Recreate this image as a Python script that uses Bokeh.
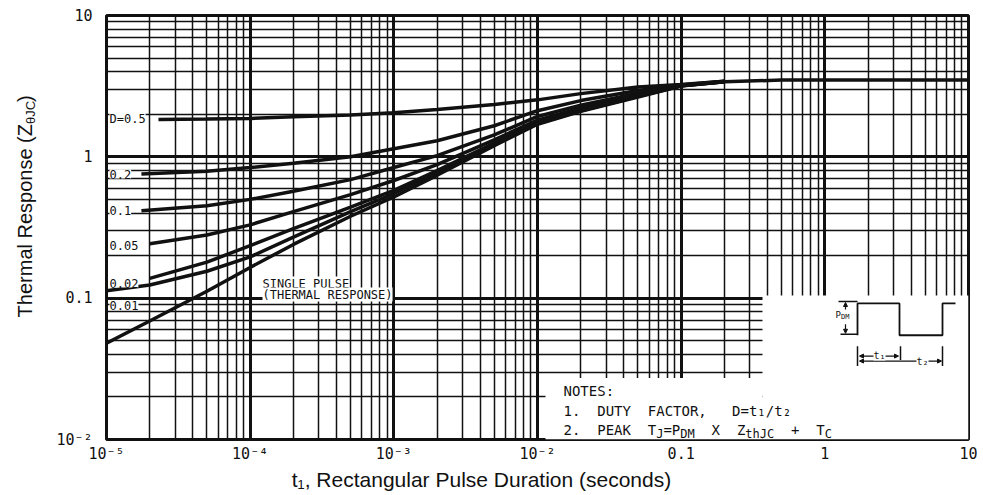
import math
from bokeh.plotting import figure
from bokeh.layouts import row, column
from bokeh.models import FixedTicker, CustomJSTickFormatter, Label, Arrow, NormalHead
from bokeh.core.properties import value
from bokeh.embed import file_html
from bokeh.resources import INLINE

# ---------------- data ----------------
single_t = [1e-5, 2e-5, 5e-5, 1e-4, 2e-4, 5e-4, 1e-3, 2e-3, 5e-3, 1e-2, 2e-2, 5e-2, 0.1, 0.2, 0.5, 1, 2, 5, 10]
single_z = [0.048, 0.069, 0.112, 0.165, 0.24, 0.38, 0.52, 0.74, 1.2, 1.7, 2.1, 2.65, 3.17, 3.4, 3.49, 3.5, 3.5, 3.5, 3.5]

d001_t = [1e-5, 2e-5, 5e-5, 1e-4, 2e-4, 5e-4, 1e-3, 2e-3, 5e-3, 1e-2, 2e-2, 5e-2, 0.1, 0.2]
d001_z = [0.113, 0.124, 0.155, 0.196, 0.27, 0.41, 0.55, 0.77, 1.23, 1.72, 2.12, 2.67, 3.18, 3.4]

d002_t = [2e-5, 5e-5, 1e-4, 2e-4, 5e-4, 1e-3, 2e-3, 5e-3, 1e-2, 2e-2, 5e-2, 0.1, 0.2]
d002_z = [0.138, 0.18, 0.235, 0.31, 0.44, 0.58, 0.8, 1.25, 1.75, 2.15, 2.69, 3.18, 3.4]

d005_t = [2e-5, 5e-5, 1e-4, 2e-4, 5e-4, 1e-3, 2e-3, 5e-3, 1e-2, 2e-2, 5e-2, 0.1, 0.2]
d005_z = [0.243, 0.28, 0.33, 0.41, 0.54, 0.68, 0.88, 1.32, 1.82, 2.22, 2.74, 3.19, 3.41]

d01_t = [1.75e-5, 5e-5, 1e-4, 2e-4, 5e-4, 1e-3, 2e-3, 5e-3, 1e-2, 2e-2, 5e-2, 0.1, 0.2]
d01_z = [0.415, 0.45, 0.5, 0.57, 0.69, 0.84, 1.02, 1.43, 1.93, 2.32, 2.82, 3.2, 3.41]

d02_t = [1.75e-5, 5e-5, 1e-4, 2e-4, 5e-4, 1e-3, 2e-3, 5e-3, 1e-2, 2e-2, 5e-2, 0.1, 0.2]
d02_z = [0.755, 0.79, 0.84, 0.9, 1.0, 1.14, 1.3, 1.66, 2.12, 2.5, 2.95, 3.22, 3.42]

d05_t = [2.3e-5, 5e-5, 1e-4, 2e-4, 5e-4, 1e-3, 2e-3, 5e-3, 1e-2, 2e-2, 5e-2, 0.1, 0.2]
d05_z = [1.84, 1.85, 1.87, 1.92, 1.98, 2.05, 2.16, 2.35, 2.53, 2.8, 3.12, 3.25, 3.43]

curve_labels = ["D=0.5", "0.2", "0.1", "0.05", "0.02", "0.01"]
curve_label_z = [1.84, 0.755, 0.415, 0.237, 0.128, 0.089]

x_tick_exps = [-5, -4, -3, -2, -1, 0, 1]
x_tick_labels = ["10⁻⁵", "10⁻⁴", "10⁻³", "10⁻²", "0.1", "1", "10"]
y_tick_exps = [-2, -1, 0, 1]
y_tick_labels = ["10⁻²", "0.1", "1", "10"]

x_title = "t₁, Rectangular Pulse Duration (seconds)"
y_title_parts = ["Thermal Response (Z", "θJC", ")"]

# ---------------- layout helpers ----------------
FX0, FX1, FY0, FY1 = 106, 968, 15, 442   # frame edges in page pixels
LEFT_W, MAIN_W, MAIN_H, BOT_H = 46, 935, 465, 28


def px2x(px):
    return 10 ** (-5 + (px - FX0) / (FX1 - FX0) * 6)


def px2y(py):
    return 10 ** (1 - (py - FY0) / (FY1 - FY0) * 3)


MONO = "DejaVu Sans Mono"
SANS = "Liberation Sans"
INK = "#111111"
NB = "\u00a0"

p = figure(width=MAIN_W, height=MAIN_H, x_axis_type="log", y_axis_type="log",
           x_range=(1e-5, 10), y_range=(1e-2, 10), output_backend="svg",
           toolbar_location=None, min_border_left=FX0 - LEFT_W, min_border_right=LEFT_W + MAIN_W - FX1,
           min_border_top=FY0, min_border_bottom=MAIN_H - FY1)
p.background_fill_color = "white"
p.border_fill_color = "white"
p.outline_line_color = INK
p.outline_line_width = 3

xmaj = [10.0 ** e for e in x_tick_exps]
ymaj = [10.0 ** e for e in y_tick_exps]
xmin = [m * d for d in xmaj[:-1] for m in range(2, 10)]
ymin = [m * d for d in ymaj[:-1] for m in range(2, 10)]
p.xaxis.ticker = FixedTicker(ticks=xmaj, minor_ticks=xmin)
p.yaxis.ticker = FixedTicker(ticks=ymaj, minor_ticks=ymin)

fmt_code = """
const e = Math.round(Math.log10(tick));
const i = exps.indexOf(e);
return i >= 0 ? labels[i] : "";
"""
p.xaxis.formatter = CustomJSTickFormatter(args=dict(exps=x_tick_exps, labels=x_tick_labels), code=fmt_code)
p.yaxis.formatter = CustomJSTickFormatter(args=dict(exps=y_tick_exps, labels=y_tick_labels), code=fmt_code)

for ax in (p.xaxis, p.yaxis):
    ax.axis_line_color = None
    ax.major_tick_line_color = None
    ax.minor_tick_line_color = None
    ax.major_tick_out = 0
    ax.minor_tick_out = 0
    ax.major_tick_in = 0
    ax.minor_tick_in = 0
    ax.major_label_text_font = MONO
    ax.major_label_text_font_size = "15px"
    ax.major_label_text_color = INK
p.xaxis.major_label_standoff = 5
p.yaxis.major_label_standoff = 14

for g in (p.xgrid, p.ygrid):
    g.grid_line_color = INK
    g.grid_line_width = 3
    g.minor_grid_line_color = INK
    g.minor_grid_line_width = 1.5

# white areas that hide the grid (notes / sketch panel)
p.quad(left=[px2x(762), px2x(545)], right=[10, px2x(762)], bottom=[1e-2, 1e-2],
       top=[px2y(297), px2y(380)], fill_color="white", line_color=None)

# curves
for t, z in [(single_t, single_z), (d001_t, d001_z), (d002_t, d002_z), (d005_t, d005_z),
             (d01_t, d01_z), (d02_t, d02_z), (d05_t, d05_z)]:
    p.line(t, z, line_color=INK, line_width=3.5)

# curve labels
for txt, z in zip(curve_labels, curve_label_z):
    p.add_layout(Label(x=px2x(109), y=z, text=txt, text_font=MONO, text_font_size="12px",
                       text_align="left", text_baseline="middle", text_color=INK,
                       background_fill_color="white"))

p.add_layout(Label(x=px2x(262), y=px2y(285), text="SINGLE PULSE", text_font=MONO,
                   text_font_size="12px", text_baseline="middle", text_color=INK,
                   background_fill_color="white"))
p.add_layout(Label(x=px2x(262), y=px2y(296), text="(THERMAL RESPONSE)", text_font=MONO,
                   text_font_size="12px", text_baseline="middle", text_color=INK,
                   background_fill_color="white"))


def compose(segments, px, py, fs, fs_sub, drop, font=MONO):
    x = px
    for txt, sub in segments:
        size = fs_sub if sub else fs
        p.add_layout(Label(x=px2x(x), y=px2y(py + (drop if sub else 0)), text=txt,
                           text_font=font, text_font_size=f"{size}px", text_align="left",
                           text_baseline="middle", text_color=INK))
        x += len(txt) * 0.602 * size


# notes
compose([("NOTES:", 0)], 563, 393, 14, 12, 4)
compose([(f"1.{NB}{NB}DUTY{NB}{NB}FACTOR,{NB}{NB}{NB}D=t₁/t₂", 0)], 563, 413, 14, 12, 4)
compose([(f"2.{NB}{NB}PEAK{NB}{NB}T", 0), ("J", 1), ("=P", 0), ("DM", 1),
         (f"{NB}{NB}X{NB}{NB}Z", 0), ("thJC", 1), (f"{NB}{NB}+{NB}{NB}T", 0), ("C", 1)],
        563, 432, 14, 12, 4)

# pulse sketch
wave_px = [857, 857, 899, 899, 942, 942, 955]
wave_py = [337, 305, 305, 337, 337, 305, 305]
p.line([px2x(v) for v in wave_px], [px2y(v) for v in wave_py], line_color=INK, line_width=1.8)
seg = [(838, 303, 857, 303), (840, 336, 857, 336), (857, 348, 857, 368),
       (900, 348, 900, 362), (942, 348, 942, 368)]
p.segment([px2x(s[0]) for s in seg], [px2y(s[1]) for s in seg],
          [px2x(s[2]) for s in seg], [px2y(s[3]) for s in seg], line_color=INK, line_width=1.5)
for (xs, ys, xe, ye, both) in [(845, 311, 845, 304, False), (845, 326, 845, 335, False),
                               (859, 358, 898, 358, True), (859, 363, 941, 363, True)]:
    p.add_layout(Arrow(x_start=px2x(xs), y_start=px2y(ys), x_end=px2x(xe), y_end=px2y(ye),
                       line_color=INK, line_width=1.2,
                       start=NormalHead(size=4, fill_color=INK, line_color=INK) if both else None,
                       end=NormalHead(size=4, fill_color=INK, line_color=INK)))
p.add_layout(Label(x=px2x(879), y=px2y(357), text="t₁", text_font=MONO, text_font_size="10px",
                   text_align="center", text_baseline="middle", text_color=INK,
                   background_fill_color="white"))
p.add_layout(Label(x=px2x(922), y=px2y(363), text="t₂", text_font=MONO, text_font_size="10px",
                   text_align="center", text_baseline="middle", text_color=INK,
                   background_fill_color="white"))
compose([("P", 0), ("DM", 1)], 835, 317, 9, 7, 2)


# ---------------- text canvases for the axis titles ----------------
def canvas(w, h):
    c = figure(width=w, height=h, x_range=(0, w), y_range=(0, h), x_axis_type=None,
               y_axis_type=None, toolbar_location=None, output_backend="svg", min_border=0)
    c.outline_line_color = None
    c.background_fill_color = "white"
    c.border_fill_color = "white"
    return c


left = canvas(LEFT_W, MAIN_H)
JUNCTION = 119          # page y where "(Z" ends and the subscript begins
SUB_LEN = 24            # length of the "θJC" subscript, px
main_txt, sub_txt, close_txt = y_title_parts
left.text(x=[24], y=[MAIN_H - JUNCTION], text=[main_txt], angle=math.pi / 2,
          text_font=value(SANS), text_font_size="20px", text_align="right",
          text_baseline="middle", text_color=INK)
left.text(x=[30], y=[MAIN_H - JUNCTION], text=[sub_txt], angle=math.pi / 2,
          text_font=value(SANS), text_font_size="13px", text_align="left",
          text_baseline="middle", text_color=INK)
left.text(x=[24], y=[MAIN_H - JUNCTION + SUB_LEN], text=[close_txt], angle=math.pi / 2,
          text_font=value(SANS), text_font_size="20px", text_align="left",
          text_baseline="middle", text_color=INK)

bottom = canvas(LEFT_W + MAIN_W, BOT_H)
bottom.text(x=[481], y=[BOT_H - (479 - MAIN_H)], text=[x_title], text_font=value(SANS),
            text_font_size="21px", text_align="center", text_baseline="middle", text_color=INK)

layout = column(row(left, p), bottom)
open("out.html", "w").write(file_html(layout, INLINE))
